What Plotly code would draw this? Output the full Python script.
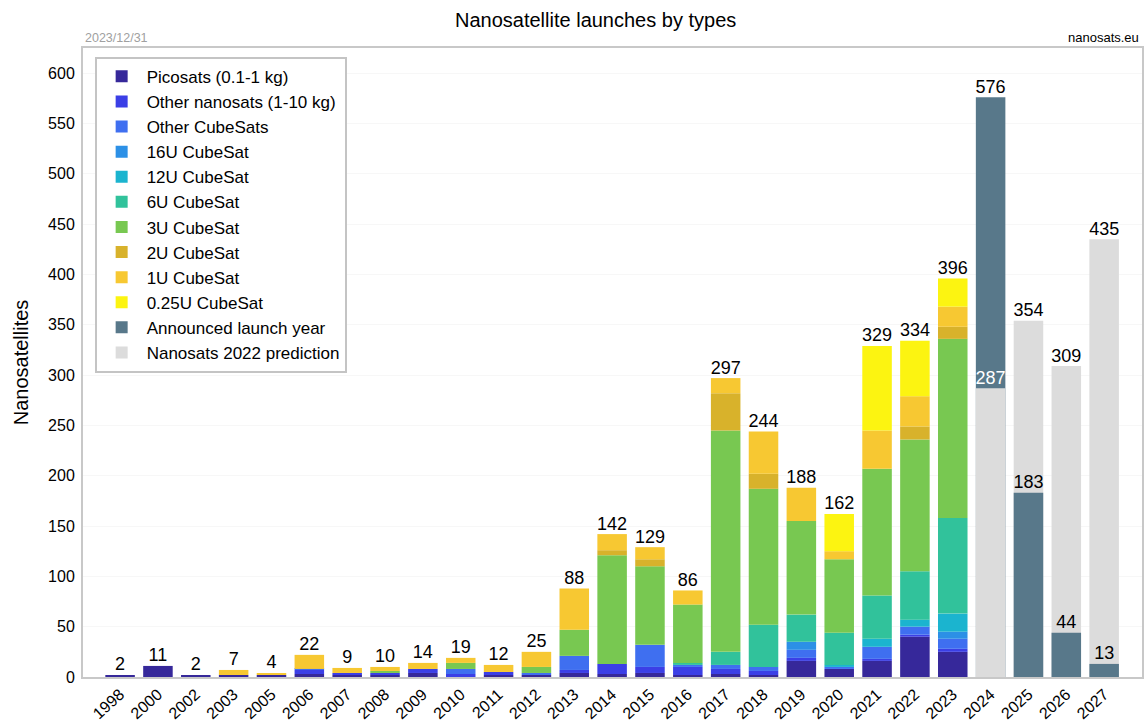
import plotly.graph_objects as go

years = ['1998', '2000', '2002', '2003', '2005', '2006', '2007', '2008', '2009', '2010', '2011',
         '2012', '2013', '2014', '2015', '2016', '2017', '2018', '2019', '2020', '2021', '2022',
         '2023', '2024', '2025', '2026', '2027']

picosats =        [2, 11, 2, 2, 2, 3, 2, 2, 4, 0, 2, 2, 4, 3, 4, 2, 3, 2, 16, 8, 16, 40, 25, 0, 0, 0, 0]
other_nanosats =  [0, 0, 0, 0, 0, 4, 2, 2, 4, 3, 3, 0, 3, 10, 6, 8, 5, 4, 3, 0, 2, 2, 3, 0, 0, 0, 0]
other_cubesats =  [0, 0, 0, 0, 0, 1, 0, 0, 0, 5, 0, 2, 14, 0, 22, 2, 4, 4, 8, 2, 12, 8, 10, 0, 0, 0, 0]
cubesat_16u =     [0, 0, 0, 0, 0, 0, 0, 0, 0, 0, 0, 0, 0, 0, 0, 0, 0, 0, 8, 0, 0, 0, 7, 0, 0, 0, 0]
cubesat_12u =     [0, 0, 0, 0, 0, 0, 0, 0, 0, 0, 0, 0, 0, 0, 0, 0, 0, 0, 0, 2, 8, 7, 18, 0, 0, 0, 0]
cubesat_6u =      [0, 0, 0, 0, 0, 0, 0, 0, 0, 0, 0, 0, 0, 0, 0, 2, 13, 42, 27, 32, 43, 48, 95, 0, 0, 0, 0]
cubesat_3u =      [0, 0, 0, 0, 0, 0, 0, 2, 0, 6, 0, 6, 26, 108, 78, 58, 220, 135, 93, 73, 126, 131, 178, 0, 0, 0, 0]
cubesat_2u =      [0, 0, 0, 0, 0, 0, 0, 0, 0, 0, 0, 0, 0, 5, 7, 0, 37, 15, 0, 0, 0, 13, 12, 0, 0, 0, 0]
cubesat_1u =      [0, 0, 0, 5, 2, 14, 5, 4, 6, 5, 7, 15, 41, 16, 12, 14, 15, 42, 33, 8, 38, 30, 20, 0, 0, 0, 0]
cubesat_025u =    [0, 0, 0, 0, 0, 0, 0, 0, 0, 0, 0, 0, 0, 0, 0, 0, 0, 0, 0, 37, 84, 55, 28, 0, 0, 0, 0]

future_years = ['2024', '2025', '2026', '2027']
announced = [576, 183, 44, 13]
prediction_2022 = [287, 354, 309, 435]

series = [
    ("Picosats (0.1-1 kg)", picosats, "#36289a"),
    ("Other nanosats (1-10 kg)", other_nanosats, "#3b3fe6"),
    ("Other CubeSats", other_cubesats, "#3f6ff0"),
    ("16U CubeSat", cubesat_16u, "#2c90e6"),
    ("12U CubeSat", cubesat_12u, "#1bb4cf"),
    ("6U CubeSat", cubesat_6u, "#31c29b"),
    ("3U CubeSat", cubesat_3u, "#78c851"),
    ("2U CubeSat", cubesat_2u, "#d8b22b"),
    ("1U CubeSat", cubesat_1u, "#f7c832"),
    ("0.25U CubeSat", cubesat_025u, "#fcf411"),
]
ANN_COLOR = "#58788a"
PRED_COLOR = "#dcdcdc"
FONT = "Liberation Sans, Arial, sans-serif"

fig = go.Figure()
base = [0] * len(years)
for name, vals, color in series:
    fig.add_trace(go.Bar(x=years, y=vals, base=list(base), name=name,
                         marker=dict(color=color, line=dict(width=0))))
    base = [b + v for b, v in zip(base, vals)]
totals = base

# future: larger bar behind, smaller in front
a_big = [(y, a) for y, a, p in zip(future_years, announced, prediction_2022) if a > p]
a_small = [(y, a) for y, a, p in zip(future_years, announced, prediction_2022) if a <= p]
fig.add_trace(go.Bar(x=[t[0] for t in a_big], y=[t[1] for t in a_big], name="Announced launch year",
                     legendgroup="ann", marker=dict(color=ANN_COLOR, line=dict(width=0))))
fig.add_trace(go.Bar(x=future_years, y=prediction_2022,
                     name="Nanosats 2022 prediction", legendgroup="pred",
                     marker=dict(color=PRED_COLOR, line=dict(width=0))))
fig.add_trace(go.Bar(x=[t[0] for t in a_small], y=[t[1] for t in a_small], name="Announced launch year",
                     legendgroup="ann", showlegend=False, marker=dict(color=ANN_COLOR, line=dict(width=0))))

# labels
hist_n = len(years) - len(future_years)
lab_x = years[:hist_n]
lab_y = totals[:hist_n]
lab_t = [str(v) for v in lab_y]
white_x, white_y, white_t = [], [], []
for y, a, p in zip(future_years, announced, prediction_2022):
    lab_x.append(y); lab_y.append(max(a, p)); lab_t.append(str(max(a, p)))
    if a > p:
        white_x.append(y); white_y.append(p); white_t.append(str(p))
    else:
        lab_x.append(y); lab_y.append(a); lab_t.append(str(a))
fig.add_trace(go.Scatter(x=lab_x, y=lab_y, text=lab_t, mode="text", textposition="top center",
                         textfont=dict(size=18, color="black", family=FONT), showlegend=False,
                         cliponaxis=False, hoverinfo="skip"))
fig.add_trace(go.Scatter(x=white_x, y=white_y, text=white_t, mode="text", textposition="top center",
                         textfont=dict(size=18, color="white", family=FONT), showlegend=False,
                         cliponaxis=False, hoverinfo="skip"))

L, R, T, B = 83, 3, 48, 47
W, H = 1145, 724
pw = W - L - R
ph = H - T - B


def px_to_paper(px, py):
    return (px - L) / pw, (H - B - py) / ph


header = [
    ("Nanosatellite launches by types", 595, 20, "center", 20, "black"),
    ("2023/12/31", 83, 38, "left", 12.5, "#a0a0a0"),
    ("nanosats.eu", 1141, 38, "right", 13, "black"),
]
annotations = []
for text, px, py, xa, size, color in header:
    ax, ay = px_to_paper(px, py)
    annotations.append(dict(text=text, x=ax, y=ay, xref="paper", yref="paper", xanchor=xa,
                            yanchor="middle", showarrow=False, font=dict(size=size, color=color)))

fig.update_layout(
    width=W, height=H,
    barmode="overlay", bargap=0.22,
    paper_bgcolor="white", plot_bgcolor="white",
    margin=dict(l=L, r=R, t=T, b=B),
    font=dict(family=FONT, color="black"),
    showlegend=True,
    legend=dict(x=0.011, y=0.986, xanchor="left", yanchor="top", traceorder="normal",
                bgcolor="white", bordercolor="#c4c4c4", borderwidth=2,
                font=dict(size=17, color="black", family=FONT), tracegroupgap=0,
                itemwidth=40),
    xaxis=dict(type="category", categoryorder="array", categoryarray=years,
               range=[-0.98, 27.0], tickangle=-42, tickfont=dict(size=16, color="black"),
               showline=True, linecolor="#c8c8c8", linewidth=2, mirror=True,
               showgrid=False, ticks="", automargin=False),
    yaxis=dict(range=[0, 625], tickvals=list(range(0, 601, 50)),
               tickfont=dict(size=16, color="black"), showline=True, linecolor="#c8c8c8",
               linewidth=2, mirror=True, showgrid=True, gridcolor="#f7f7f7", zeroline=False,
               ticks="", ticklabelstandoff=3,
               title=dict(text="Nanosatellites", font=dict(size=20, color="black"), standoff=14),
               automargin=False),
    annotations=annotations,
)

fig.write_html("out.html", config={"displayModeBar": False},
               post_script="document.body.style.margin='0px';document.body.style.overflow='hidden';")
